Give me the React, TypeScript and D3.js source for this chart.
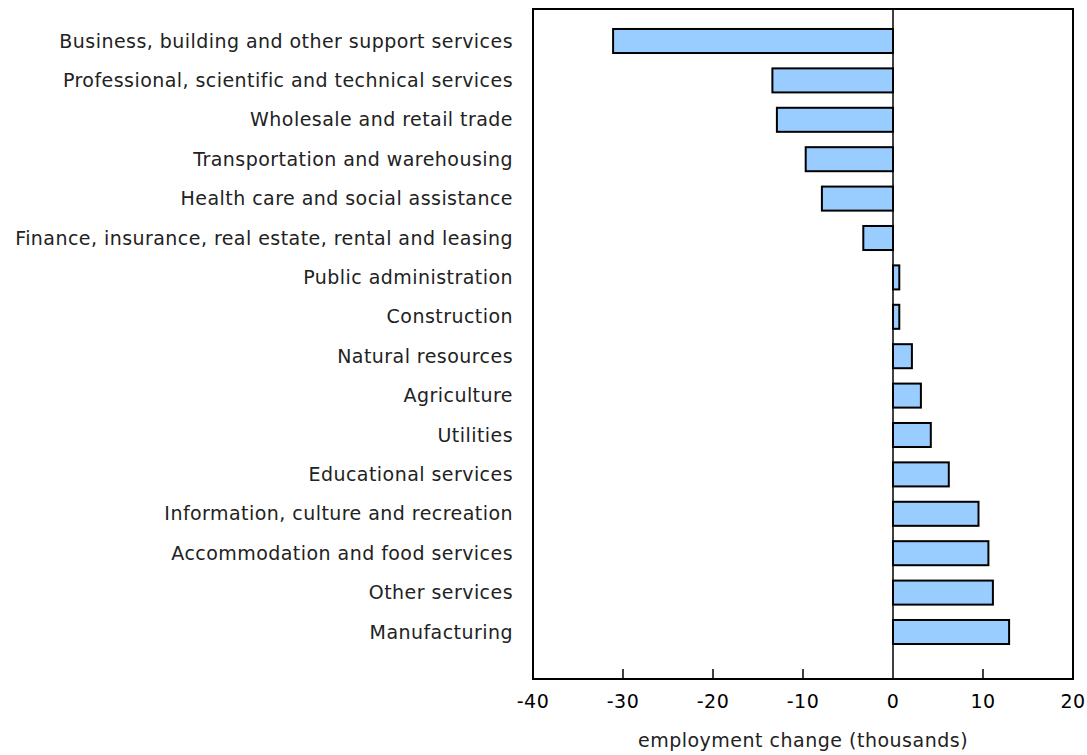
import React from "react";
import * as d3 from "d3";

const categories = [
  "Business, building and other support services",
  "Professional, scientific and technical services",
  "Wholesale and retail trade",
  "Transportation and warehousing",
  "Health care and social assistance",
  "Finance, insurance, real estate, rental and leasing",
  "Public administration",
  "Construction",
  "Natural resources",
  "Agriculture",
  "Utilities",
  "Educational services",
  "Information, culture and recreation",
  "Accommodation and food services",
  "Other services",
  "Manufacturing",
];
const values = [-31.1, -13.4, -12.9, -9.7, -7.9, -3.3, 0.7, 0.7, 2.1, 3.1, 4.2, 6.2, 9.5, 10.6, 11.1, 12.9];
const xTicks = [-40, -30, -20, -10, 0, 10, 20];
const xTitle = "employment change (thousands)";

const W = 1087;
const H = 755;
const left = 533;
const right = 1073;
const top = 9;
const bottom = 679;
const font = "Verdana, 'DejaVu Sans', sans-serif";

export default function App() {
  const x = d3.scaleLinear().domain([-40, 20]).range([left, right]);
  const y = d3
    .scaleBand<string>()
    .domain(categories)
    .range([21.3, 651.7])
    .paddingInner(0.39)
    .paddingOuter(0.195);
  return (
    <svg width={W} height={H} style={{ position: "absolute", left: 0, top: 0 }} fontFamily={font}>
      <rect x={0} y={0} width={W} height={H} fill="#fff" />
      {categories.map((c, i) => {
        const v = values[i];
        const x0 = x(Math.min(0, v));
        const x1 = x(Math.max(0, v));
        return (
          <rect
            key={c}
            x={x0}
            y={y(c)!}
            width={x1 - x0}
            height={y.bandwidth()}
            fill="#99CCFF"
            stroke="#000"
            strokeWidth={2}
          />
        );
      })}
      <line x1={x(0)} x2={x(0)} y1={top} y2={bottom} stroke="#000" strokeWidth={1.5} />
      <rect x={left} y={top} width={right - left} height={bottom - top} fill="none" stroke="#000" strokeWidth={2} />
      {xTicks.map((t) => (
        <g key={t}>
          {t !== 0 && t !== -40 && t !== 20 && (
            <line x1={x(t)} x2={x(t)} y1={bottom} y2={bottom - 10} stroke="#000" strokeWidth={1.5} />
          )}
          <text x={x(t)} y={701} dy="0.35em" textAnchor="middle" fontSize={19} letterSpacing={0.5} fill="#000">
            {t}
          </text>
        </g>
      ))}
      {categories.map((c) => (
        <text
          key={c}
          x={513}
          y={y(c)! + y.bandwidth() / 2}
          dy="0.35em"
          textAnchor="end"
          fontSize={19}
          letterSpacing={0.45}
          fill="#222"
        >
          {c}
        </text>
      ))}
      <text x={803} y={740} dy="0.35em" textAnchor="middle" fontSize={19} letterSpacing={0.5} fill="#222">
        {xTitle}
      </text>
    </svg>
  );
}
